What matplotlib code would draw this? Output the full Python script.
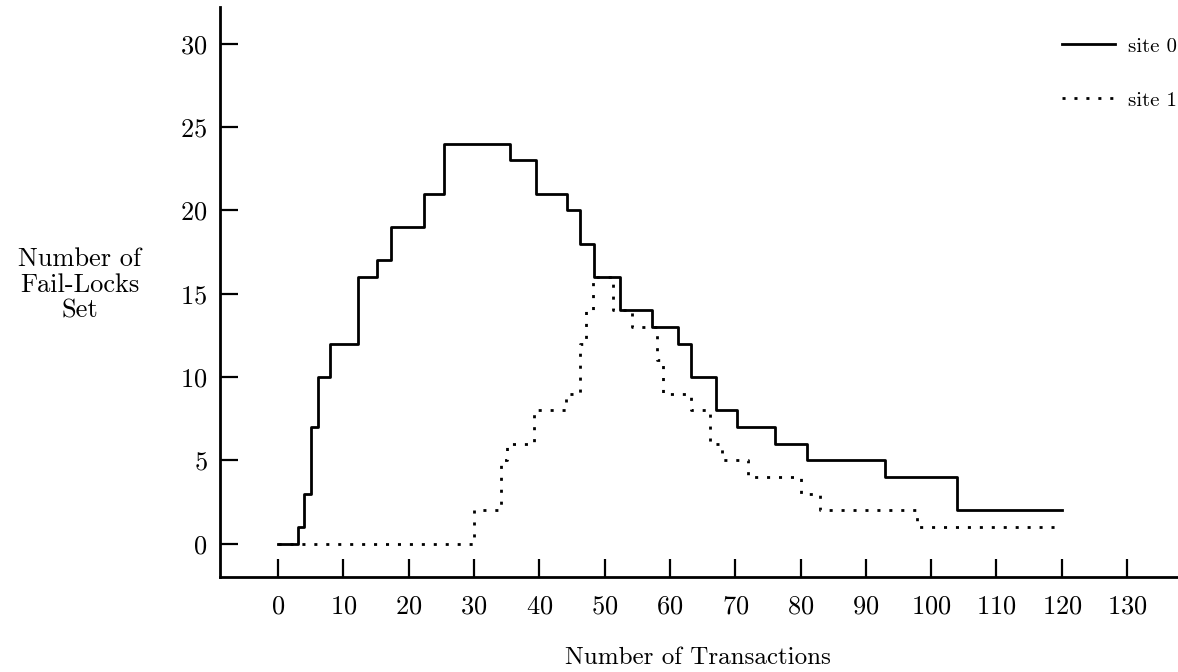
import matplotlib
matplotlib.use("Agg")
import matplotlib.pyplot as plt

plt.rcParams['font.family'] = ['cmr10', 'DejaVu Serif']
plt.rcParams['axes.formatter.use_mathtext'] = True

# step break points (post-style steps)
site0_x = [0, 3.1, 4.0, 5.1, 6.1, 8.0, 12.2, 15.2, 17.3, 22.4, 25.4, 35.5, 39.5,
           44.3, 46.2, 48.3, 52.3, 57.2, 61.2, 63.2, 67.1, 70.3, 76.1, 81.0,
           92.9, 103.9, 120]
site0_y = [0, 1, 3, 7, 10, 12, 16, 17, 19, 21, 24, 23, 21,
           20, 18, 16, 14, 13, 12, 10, 8, 7, 6, 5,
           4, 2, 2]

site1_x = [0, 30, 34.1, 35.1, 39.2, 44.1, 46.3, 47.2, 48.2, 51.3, 54.2, 58.0,
           59.0, 63.3, 66.1, 68.0, 72.0, 80.0, 83.0, 97.9, 120]
site1_y = [0, 2, 5, 6, 8, 9, 12, 14, 16, 14, 13, 11,
           9, 8, 6, 5, 4, 3, 2, 1, 1]

x_ticks = list(range(0, 131, 10))
y_ticks = list(range(0, 31, 5))

W, H = 1178, 672
fig = plt.figure(figsize=(W / 100, H / 100), dpi=100)
ax = fig.add_axes([220 / W, (H - 577) / H, (W - 220) / W, (577 - 7) / H])

ax.step(site0_x, site0_y, where='post', color='black', lw=2.0, label='site 0')
ax.step(site1_x, site1_y, where='post', color='black', lw=2.0,
        linestyle=(0, (1.1, 3.2)), label='site 1')

ax.set_xlim(-8.9, 137.8)
ax.set_ylim(-2, 32.2)
ax.set_xticks(x_ticks)
ax.set_yticks(y_ticks)

for s in ['top', 'right']:
    ax.spines[s].set_visible(False)
for s in ['left', 'bottom']:
    ax.spines[s].set_linewidth(2.0)

ax.tick_params(axis='both', direction='in', length=13, width=1.6,
               labelsize=19, colors='black')
ax.tick_params(axis='x', pad=13)
ax.tick_params(axis='y', pad=9)

fig.text(698 / W, 1 - 658 / H, 'Number of Transactions', fontsize=18,
         ha='center', va='center')
fig.text(80 / W, 1 - 285 / H, 'Number of\nFail-Locks\nSet', fontsize=19,
         ha='center', va='center', linespacing=1.12)

ax.legend(loc='upper left', bbox_to_anchor=(1062 / W, 1 - 37 / H),
          bbox_transform=fig.transFigure, frameon=False, fontsize=15,
          handlelength=2.55, handletextpad=0.6, labelspacing=1.7,
          borderaxespad=0, borderpad=0)

fig.savefig('out.png', dpi=100)
